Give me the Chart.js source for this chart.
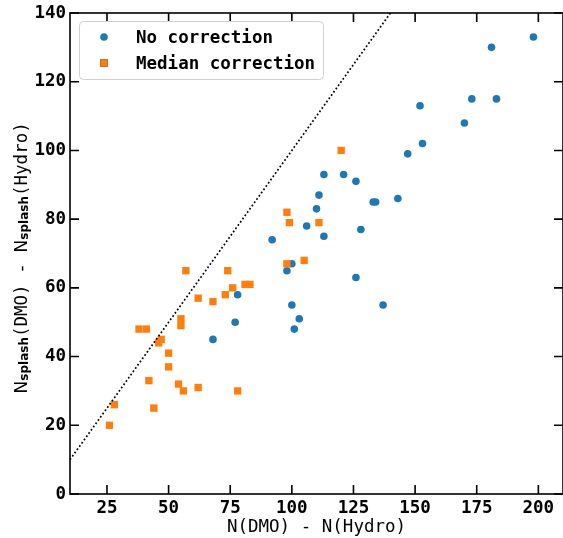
<!DOCTYPE html>
<html>
<head>
<meta charset="utf-8">
<script src="https://cdn.jsdelivr.net/npm/chart.js@4/dist/chart.umd.min.js"></script>
<style>
  html, body { margin: 0; padding: 0; background: #fff; overflow: hidden; }
  #wrap { width: 563px; height: 538px; }
</style>
</head>
<body>
<div id="wrap"><canvas id="splashChart" width="563" height="538"></canvas></div>
<script>
// N(DMO) - N(Hydro) vs N_splash(DMO) - N_splash(Hydro), no correction
var rawX = [68, 77, 78, 92, 98, 100, 100, 101, 103, 106, 110, 111, 113, 113, 121, 126, 126, 128, 133, 134, 137, 143, 147, 152, 153, 170, 173, 181, 183, 198];
var rawY = [45, 50, 58, 74, 65, 67, 55, 48, 51, 78, 83, 87, 93, 75, 93, 91, 63, 77, 85, 85, 55, 86, 99, 113, 102, 108, 115, 130, 115, 133];
// same, with median correction
var medX = [26, 28, 38, 41, 42, 44, 46, 47, 50, 50, 54, 55, 55, 56, 57, 62, 62, 68, 73, 74, 76, 78, 81, 83, 98, 98, 99, 105, 111, 120];
var medY = [20, 26, 48, 48, 33, 25, 44, 45, 41, 37, 32, 51, 49, 30, 65, 57, 31, 56, 58, 65, 60, 30, 61, 61, 82, 67, 79, 68, 79, 100];

var seriesLabels = ['No correction', 'Median correction'];
var xTicks = [25, 50, 75, 100, 125, 150, 175, 200];
var yTicks = [0, 20, 40, 60, 80, 100, 120, 140];
var xRange = [10, 210];
var yRange = [0, 140];
var oneToOne = [10, 140];

var MONO = '"DejaVu Sans Mono", monospace';
var SANS = '"DejaVu Sans", sans-serif';

function toPoints(xs, ys) {
    var pts = [];
    for (var i = 0; i < xs.length; i++) {
        pts.push({x: xs[i], y: ys[i]});
    }
    return pts;
}

// spines all round with inward ticks (right spine sits just past the canvas edge)
var frameTicks = {
    id: 'frameTicks',
    afterDatasetsDraw: function(chart) {
        var ctx = chart.ctx, a = chart.chartArea;
        var xs = chart.scales.x, ys = chart.scales.y;
        var len = 9;
        ctx.save();
        ctx.strokeStyle = '#000';
        ctx.lineWidth = 1.6;
        ctx.strokeRect(a.left, a.top, a.right - a.left, a.bottom - a.top);
        ctx.beginPath();
        xTicks.forEach(function(v) {
            var px = xs.getPixelForValue(v);
            ctx.moveTo(px, a.bottom); ctx.lineTo(px, a.bottom - len);
            ctx.moveTo(px, a.top); ctx.lineTo(px, a.top + len);
        });
        yTicks.forEach(function(v) {
            var py = ys.getPixelForValue(v);
            ctx.moveTo(a.left, py); ctx.lineTo(a.left + len, py);
            ctx.moveTo(a.right, py); ctx.lineTo(a.right - len, py);
        });
        ctx.stroke();
        ctx.restore();
    }
};

// legend box in the upper left corner of the plot
var boxLegend = {
    id: 'boxLegend',
    afterDraw: function(chart) {
        var ctx = chart.ctx;
        var x0 = 79, y0 = 21, w = 244, h = 58, r = 4;
        ctx.save();
        ctx.beginPath();
        ctx.roundRect(x0 + 0.5, y0 + 0.5, w, h, r);
        ctx.fillStyle = 'rgba(255,255,255,0.8)';
        ctx.fill();
        ctx.strokeStyle = '#d0d0d0';
        ctx.lineWidth = 1;
        ctx.stroke();

        var rows = chart.data.datasets.filter(function(d) { return d.label; });
        rows.forEach(function(d, i) {
            var cy = 37 + i * 26;
            Chart.helpers.drawPoint(ctx, {
                pointStyle: d.pointStyle, radius: d.pointRadius, borderWidth: 0
            }, 104, cy);
            ctx.fillStyle = d.backgroundColor;
            ctx.fill();
            ctx.fillStyle = '#000';
            ctx.font = 'bold 17.5px ' + MONO;
            ctx.textBaseline = 'middle';
            ctx.textAlign = 'left';
            ctx.fillText(d.label, 136, cy + 1);
        });
        ctx.restore();
    }
};

// rotated y title with bold subscripts
var yTitle = {
    id: 'yTitle',
    afterDraw: function(chart) {
        var ctx = chart.ctx;
        var parts = [
            {t: 'N', f: '17.5px ' + SANS, dy: 0},
            {t: 'splash', f: 'bold 12px ' + SANS, dy: 1.5},
            {t: '(DMO) - ', f: '17.5px ' + MONO, dy: 0},
            {t: 'N', f: '17.5px ' + SANS, dy: 0},
            {t: 'splash', f: 'bold 12px ' + SANS, dy: 1.5},
            {t: '(Hydro)', f: '17.5px ' + MONO, dy: 0}
        ];
        ctx.save();
        var total = 0;
        parts.forEach(function(p) {
            ctx.font = p.f;
            p.w = ctx.measureText(p.t).width;
            total += p.w;
        });
        ctx.translate(26.5, 258 + total / 2);
        ctx.rotate(-Math.PI / 2);
        ctx.fillStyle = '#000';
        ctx.textBaseline = 'alphabetic';
        ctx.textAlign = 'left';
        var pos = 0;
        parts.forEach(function(p) {
            ctx.font = p.f;
            ctx.fillText(p.t, pos, p.dy);
            pos += p.w;
        });
        ctx.restore();
    }
};

var ctx = document.getElementById('splashChart');

var splashChart = new Chart(ctx, {
    type: 'scatter',
    data: {
        datasets: [{
            label: seriesLabels[0],
            data: toPoints(rawX, rawY),
            backgroundColor: '#1f77b4',
            borderWidth: 0,
            pointStyle: 'circle',
            pointRadius: 3.8,
            order: 2
        }, {
            label: seriesLabels[1],
            data: toPoints(medX, medY),
            backgroundColor: '#ff7f0e',
            borderWidth: 0,
            pointStyle: 'rect',
            pointRadius: 5.2,
            order: 1
        }, {
            data: toPoints(oneToOne, oneToOne),
            showLine: true,
            borderColor: '#000',
            borderWidth: 1.7,
            borderDash: [1.6, 2.4],
            pointRadius: 0,
            order: 0
        }]
    },
    options: {
        responsive: false,
        animation: false,
        events: [],
        layout: {
            autoPadding: false,
            padding: {top: 13, left: 0, right: -1.4, bottom: 0}
        },
        scales: {
            x: {
                type: 'linear',
                min: xRange[0],
                max: xRange[1],
                afterBuildTicks: function(scale) {
                    scale.ticks = xTicks.map(function(v) { return {value: v}; });
                },
                afterFit: function(scale) {
                    scale.height = 44;
                    scale.paddingLeft = 0;
                    scale.paddingRight = 0;
                },
                grid: {display: false, drawTicks: false},
                border: {display: false},
                ticks: {
                    padding: 4,
                    color: '#000',
                    font: {family: MONO, size: 17.5, weight: 'bold'}
                },
                title: {
                    display: true,
                    text: 'N(DMO) - N(Hydro)',
                    color: '#000',
                    padding: 0,
                    font: {family: MONO, size: 17.5, weight: 'normal'}
                }
            },
            y: {
                type: 'linear',
                min: yRange[0],
                max: yRange[1],
                afterBuildTicks: function(scale) {
                    scale.ticks = yTicks.map(function(v) { return {value: v}; });
                },
                afterFit: function(scale) {
                    scale.width = 70;
                    scale.paddingTop = 0;
                    scale.paddingBottom = 0;
                },
                grid: {display: false, drawTicks: false},
                border: {display: false},
                ticks: {
                    padding: 4,
                    color: '#000',
                    font: {family: MONO, size: 17.5, weight: 'bold'}
                }
            }
        },
        plugins: {
            legend: {display: false},
            tooltip: {enabled: false}
        }
    },
    plugins: [frameTicks, boxLegend, yTitle]
});
</script>
</body>
</html>
